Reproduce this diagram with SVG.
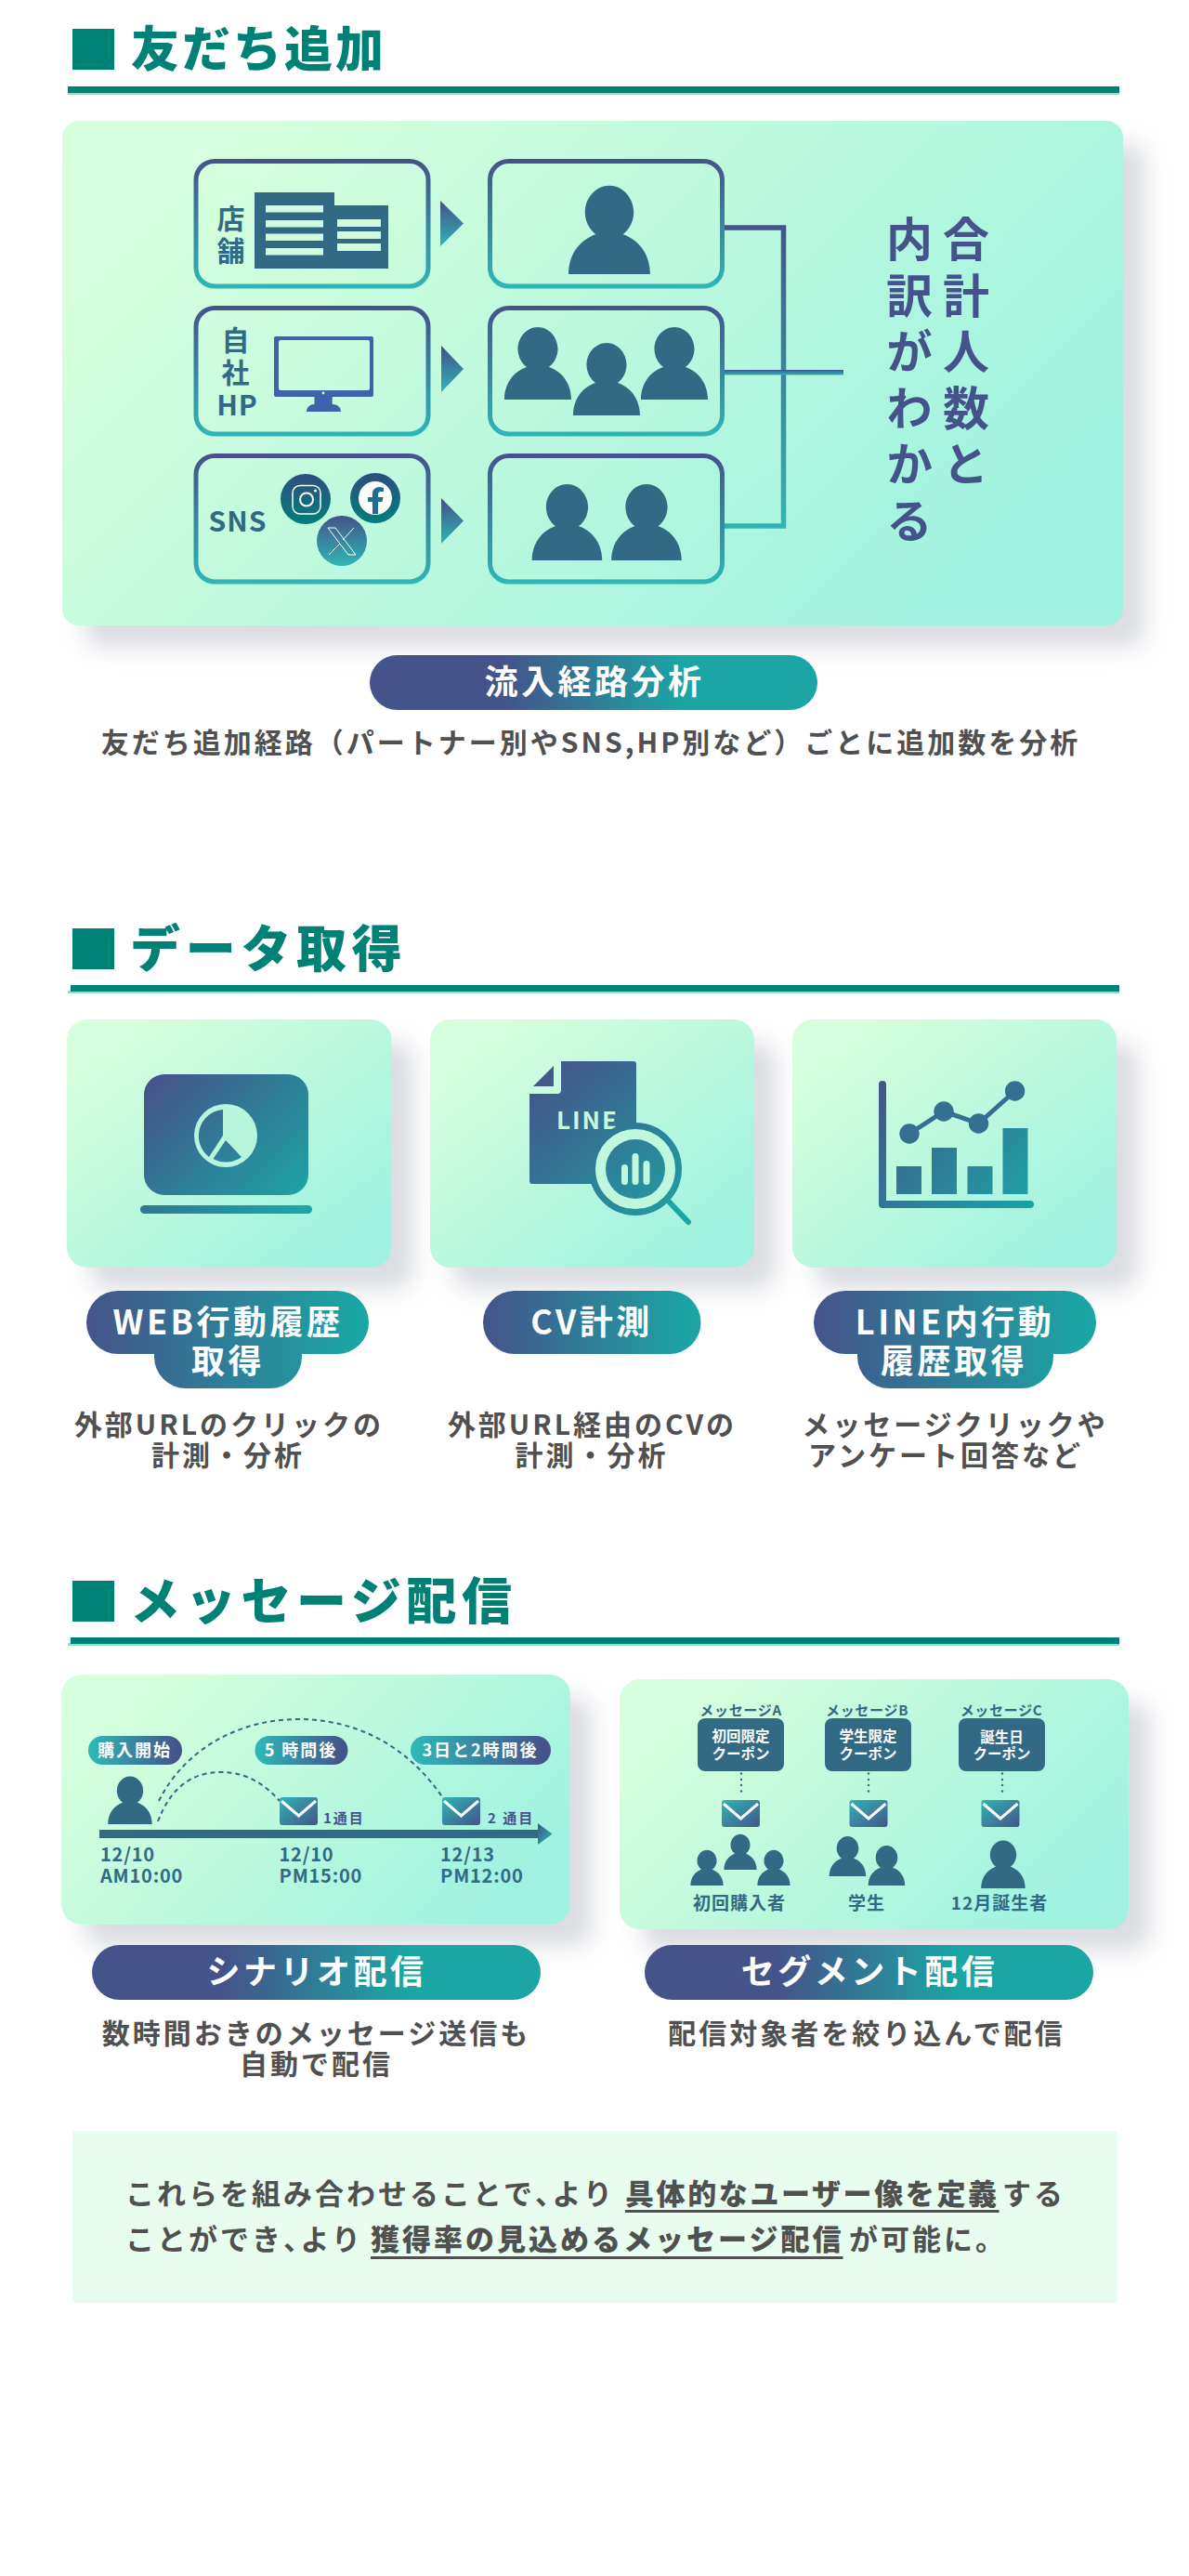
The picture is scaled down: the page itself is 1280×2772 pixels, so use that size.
<svg xmlns="http://www.w3.org/2000/svg" xmlns:xlink="http://www.w3.org/1999/xlink" width="1280" height="2772" viewBox="0 0 1280 2772">
<style>
text{font-family:"Noto Sans CJK JP","Noto Sans",sans-serif}
.h{font-size:54px;font-weight:900;fill:#008176;letter-spacing:5.700px}
.h1{font-size:52px;letter-spacing:3px}
.sq{fill:#008176}.ru{fill:#008176}.rl{fill:#8fe0c5}
.card{filter:url(#sh)}
.box{fill:none;stroke:url(#bs);stroke-width:5}
.tri{fill:url(#tri)}
.b30{font-size:30px;font-weight:700;fill:#326a85;text-anchor:middle;letter-spacing:1px}
.pt{font-size:36px;font-weight:700;fill:#fff;text-anchor:middle;letter-spacing:3.500px}
.cap{font-size:30px;font-weight:700;fill:#505050;text-anchor:middle;letter-spacing:3px}
.p{fill:#326a85}
.lbl{font-size:18px;font-weight:700;fill:#fff;text-anchor:middle;letter-spacing:2px}
.dt{font-size:20px;font-weight:700;fill:#326a85;letter-spacing:.8px}
.nth{font-size:15px;font-weight:700;fill:#44548a;letter-spacing:2px}
.dash{fill:none;stroke:#326a85;stroke-width:2;stroke-dasharray:5 4}
.env{fill:url(#env)}.chev{fill:none;stroke:#fff;stroke-width:3}
.msg{font-size:15px;font-weight:700;fill:#326a85;text-anchor:middle;letter-spacing:.7px}
.cb{fill:#326a85}
.cpn{font-size:15.500px;font-weight:700;fill:#fff;text-anchor:middle}
.seg{font-size:19px;font-weight:700;fill:#326a85;text-anchor:middle;letter-spacing:1px}
.dot{fill:#326a85}
.sum{font-size:31px;font-weight:700;fill:#505050;letter-spacing:3px}
.sb{font-weight:900}
.sb1{letter-spacing:2.600px}
.pa{font-feature-settings:"palt"}
.vt{font-size:50px;font-weight:700;fill:#44548a;writing-mode:vertical-rl;letter-spacing:10.500px}
</style>
<defs>
<linearGradient id="cardS"><stop offset=".12" stop-color="#d6ffdd"/><stop offset=".88" stop-color="#9ff2e0"/></linearGradient>
<linearGradient id="card" href="#cardS" x1="0" y1="0" x2="1" y2="1"/>
<linearGradient id="card1" href="#cardS" gradientUnits="userSpaceOnUse" x1="217" y1="-19.500" x2="1059" y2="822.500"/>
<linearGradient id="cardA" href="#cardS" gradientUnits="userSpaceOnUse" x1="136" y1="1732.500" x2="544" y2="2140.500"/>
<linearGradient id="cardB" href="#cardS" gradientUnits="userSpaceOnUse" x1="737" y1="1737.500" x2="1145" y2="2145.500"/>
<linearGradient id="bs" x1="0" y1="0" x2="0" y2="1"><stop offset="0" stop-color="#44548a"/><stop offset="1" stop-color="#2fb5b5"/></linearGradient>
<linearGradient id="tri" x1="0" y1="0" x2="0" y2="1"><stop offset=".05" stop-color="#44548a"/><stop offset="1" stop-color="#2fb5b5"/></linearGradient>
<linearGradient id="conn" gradientUnits="userSpaceOnUse" x1="0" y1="242" x2="0" y2="569"><stop offset="0" stop-color="#44548a"/><stop offset="1" stop-color="#2fb5b5"/></linearGradient>
<linearGradient id="pill" x1="0" y1="0" x2="1" y2="0"><stop offset=".3" stop-color="#44548a"/><stop offset=".7" stop-color="#1ba5a5"/></linearGradient>
<linearGradient id="pill2" x1="0" y1="0" x2="1" y2="0"><stop offset="0" stop-color="#44548a"/><stop offset=".95" stop-color="#1ba5a5"/></linearGradient>
<linearGradient id="lab" x1="0" y1="0" x2="1" y2="0"><stop offset=".05" stop-color="#2fb5b5"/><stop offset=".95" stop-color="#44548a"/></linearGradient>
<linearGradient id="env" x1="0" y1="0" x2="1" y2="1"><stop offset="0" stop-color="#2fb5b5"/><stop offset="1" stop-color="#44548a"/></linearGradient>
<linearGradient id="axh" x1="0" y1="0" x2="1" y2="1"><stop offset="0" stop-color="#44548a"/><stop offset="1" stop-color="#2fb5b5"/></linearGradient>
<linearGradient id="ig" x1="0" y1="0" x2="0" y2="1"><stop offset="0" stop-color="#2f4d80"/><stop offset="1" stop-color="#00807a"/></linearGradient>
<linearGradient id="xg" x1="0" y1="0" x2="0" y2="1"><stop offset="0" stop-color="#44548a"/><stop offset="1" stop-color="#2fb5b5"/></linearGradient>
<linearGradient id="lap" gradientUnits="userSpaceOnUse" x1="175" y1="1150" x2="320" y2="1300"><stop offset="0" stop-color="#44548a"/><stop offset="1" stop-color="#1ba5a5"/></linearGradient>
<linearGradient id="doc" gradientUnits="userSpaceOnUse" x1="590" y1="1142" x2="745" y2="1317"><stop offset="0" stop-color="#44548a"/><stop offset="1" stop-color="#1ba5a5"/></linearGradient>
<linearGradient id="cht" gradientUnits="userSpaceOnUse" x1="946" y1="1163" x2="1113" y2="1300"><stop offset="0" stop-color="#44548a"/><stop offset="1" stop-color="#1ba5a5"/></linearGradient>
<filter id="sh" x="-15%" y="-15%" width="135%" height="135%" color-interpolation-filters="sRGB"><feDropShadow dx="24" dy="24" stdDeviation="12" flood-color="#3a4060" flood-opacity=".18"/></filter>
<path id="person" d="M-36 0C-36-22-20-37 0-37C20-37 36-22 36 0ZM0-78C12-78 21.500-67 21.500-54.500C21.500-42 12-31 0-31C-12-31-21.500-42-21.500-54.500C-21.500-67-12-78 0-78Z"/>
</defs>
<rect width="1280" height="2772" fill="#fff"/>

<g id="heading-1">
<rect class="sq" x="78" y="31" width="45" height="44"/>
<text class="h h1" x="141" y="72">友だち追加</text>
<rect class="rl" x="73" y="99" width="1132" height="3"/><rect class="ru" x="73" y="93" width="1132" height="7"/>
</g>
<g id="card-1"><rect class="card" fill="url(#card1)" x="67" y="130" width="1142" height="543" rx="18"/></g>

<g id="connectors">
<path d="M780 245H843.500V566H780" fill="none" stroke="url(#conn)" stroke-width="5.500"/>
<rect x="780" y="398" width="128" height="5.500" fill="url(#bs)"/>
</g>

<g id="src-store">
<rect class="box" x="211" y="173.500" width="250" height="134.500" rx="20"/>
<text class="b30"><tspan x="249" y="246">店</tspan><tspan x="249" y="281">舗</tspan></text>
<path class="p" d="M274 207H360V221H418V289H274Z"/>
<g fill="#d0fbdf"><rect x="286" y="221" width="62" height="7.500"/><rect x="286" y="237" width="62" height="7.500"/><rect x="286" y="251.500" width="62" height="7.500"/><rect x="286" y="267" width="62" height="7.500"/><rect x="363" y="236" width="47" height="8"/><rect x="363" y="249" width="47" height="8"/><rect x="363" y="262" width="47" height="8"/></g>
</g>
<polygon class="tri" points="474,216 499,240.500 474,265"/>
<g id="count-1">
<rect class="box" x="527.500" y="173.500" width="250" height="134.500" rx="20"/>
<use href="#person" class="p" transform="translate(656,295) scale(1.22)"/>
</g>

<g id="src-hp">
<rect class="box" x="211" y="331.500" width="250" height="135.500" rx="20"/>
<text class="b30"><tspan x="254" y="377">自</tspan><tspan x="254" y="412">社</tspan><tspan x="255.500" y="447">HP</tspan></text>
<path fill="#3f63a8" fill-rule="evenodd" d="M297 362H400Q402 362 402 364V425Q402 427 400 427H297Q295 427 295 425V364Q295 362 297 362ZM302 366Q300 366 300 368V418Q300 420 302 420H396Q398 420 398 418V368Q398 366 396 366Z"/>
<path fill="#3f63a8" d="M338.500 427H357.700V435C363 435 367 438 367 443H330C330 438 334 435 338.500 435Z"/>
<circle cx="348" cy="423" r="1.400" fill="#d0fbdf"/>
</g>
<polygon class="tri" points="475,372 499,397 475,422"/>
<g id="count-2">
<rect class="box" x="527.500" y="331.500" width="250" height="135.500" rx="20"/>
<use href="#person" class="p" transform="translate(579,430)"/><use href="#person" class="p" transform="translate(653,447)"/><use href="#person" class="p" transform="translate(726,430)"/>
</g>

<g id="src-sns">
<rect class="box" x="211" y="490.500" width="250" height="135.500" rx="20"/>
<text class="b30" x="256" y="572">SNS</text>
<circle cx="329" cy="537" r="27" fill="url(#ig)"/>
<rect x="315" y="522.500" width="30" height="30.500" rx="8" fill="none" stroke="#fff" stroke-width="1.500"/>
<circle cx="330" cy="537.500" r="7" fill="none" stroke="#fff" stroke-width="2"/><circle cx="339.500" cy="528" r="1.600" fill="#fff"/>
<circle cx="404" cy="536" r="27" fill="url(#ig)"/>
<circle cx="404" cy="536" r="18" fill="#fff"/>
<path fill="#1f6f8c" d="M401 553V540H396V535H401V531C401 527 404 524 409 524L413 525V529H410C408 529 407 530 407 532V535H412.500L411.500 540H407V553Z"/>
<circle cx="368" cy="582" r="27" fill="url(#xg)"/>
<path d="M353 568H361L383 597H375ZM381 568L369 581M366 585L354 597" fill="none" stroke="#fff" stroke-width="1"/>
</g>
<polygon class="tri" points="475,536 499,560.500 475,585"/>
<g id="count-3">
<rect class="box" x="527.500" y="490.500" width="250" height="135.500" rx="20"/>
<use href="#person" class="p" transform="translate(610.500,603) scale(1.050)"/><use href="#person" class="p" transform="translate(696,603) scale(1.050)"/>
</g>
<g id="total-note">
<text class="vt" x="1040" y="232">合計人数と</text>
<text class="vt" x="979" y="232">内訳がわかる</text>
</g>

<g id="pill-flow">
<rect x="398" y="705" width="482" height="59" rx="29.500" fill="url(#pill)"/>
<text class="pt" x="640" y="747">流入経路分析</text>
<text class="cap" x="636" y="810">友だち追加経路（パートナー別やSNS,HP別など）ごとに追加数を分析</text>
</g>

<g id="heading-2">
<rect class="sq" x="78" y="999" width="45" height="44"/>
<text class="h" x="140" y="1041">データ取得</text>
<rect class="rl" x="73" y="1066" width="1132" height="3"/><rect class="ru" x="76" y="1060" width="1129" height="7"/>
</g>

<g id="card-web">
<rect class="card" fill="url(#card)" x="72" y="1097" width="349.500" height="267" rx="22"/>
<rect x="155" y="1156" width="177" height="130" rx="22" fill="url(#lap)"/>
<rect x="151" y="1297" width="185" height="9" rx="4.500" fill="url(#lap)"/>
<circle cx="243" cy="1222" r="34" fill="#b8f5dd"/>
<path fill="url(#lap)" d="M240 1194V1222L225 1245A28.500 28.500 0 0 1 240 1194ZM243 1227L260 1245A28 28 0 0 1 229.500 1247Z"/>
<path fill="url(#pill2)" d="M127 1389H363A34 34 0 0 1 363 1457H325V1460A34 34 0 0 1 291 1494H200A34 34 0 0 1 166 1460V1457H127A34 34 0 0 1 127 1389Z"/>
<text class="pt"><tspan x="245.500" y="1436">WEB行動履歴</tspan><tspan x="245.500" y="1478">取得</tspan></text>
<text class="cap"><tspan x="246.500" y="1544">外部URLのクリックの</tspan><tspan x="245.500" y="1577">計測・分析</tspan></text>
</g>

<g id="card-cv">
<rect class="card" fill="url(#card)" x="463" y="1097" width="349" height="267" rx="22"/>
<path fill="url(#doc)" d="M604 1142H682Q685 1142 685 1145V1274H573Q570 1274 570 1271V1177H600Q604 1177 604 1173Z"/>
<path fill="url(#doc)" d="M596 1147V1169H574Z"/>
<text x="599" y="1215" font-size="26" font-weight="700" fill="#c8f8df" letter-spacing="2">LINE</text>
<circle cx="684" cy="1258" r="46.500" fill="#bff8dd" stroke="url(#doc)" stroke-width="7"/>
<circle cx="684" cy="1258" r="32" fill="url(#doc)"/>
<g fill="#bff8dd"><rect x="669" y="1253" width="7" height="22" rx="3.500"/><rect x="680.500" y="1241" width="7" height="34" rx="3.500"/><rect x="692.500" y="1249" width="7" height="26" rx="3.500"/></g>
<path d="M720 1293L741 1315" stroke="#1ba5a5" stroke-width="6" stroke-linecap="round"/>
<path fill="url(#pill2)" d="M554 1389H720.500A34 34 0 0 1 720.500 1457H554A34 34 0 0 1 554 1389Z"/>
<text class="pt" x="637" y="1436">CV計測</text>
<text class="cap"><tspan x="637.500" y="1544">外部URL経由のCVの</tspan><tspan x="637" y="1577">計測・分析</tspan></text>
</g>

<g id="card-line">
<rect class="card" fill="url(#card)" x="853" y="1097" width="349" height="267" rx="22"/>
<path fill="url(#cht)" d="M946 1167Q946 1163 950 1163Q954 1163 954 1167V1292H1109Q1113 1292 1113 1296Q1113 1300 1109 1300H950Q946 1300 946 1296Z"/>
<g fill="url(#cht)"><rect x="965" y="1255" width="27" height="30"/><rect x="1003" y="1235" width="27" height="50"/><rect x="1041.500" y="1255" width="27" height="30"/><rect x="1079.500" y="1214" width="27" height="71"/></g>
<path d="M979 1220L1016 1196L1053.500 1209L1092.600 1174" fill="none" stroke="#356f92" stroke-width="5"/>
<g fill="#356f92"><circle cx="979" cy="1220" r="10.700"/><circle cx="1016" cy="1196" r="10.700"/><circle cx="1053.500" cy="1209" r="10.700"/><circle cx="1092.600" cy="1174" r="10.700"/></g>
<path fill="url(#pill2)" d="M910 1389H1146A34 34 0 0 1 1146 1457H1134V1460A34 34 0 0 1 1100 1494H957A34 34 0 0 1 923 1460V1457H910A34 34 0 0 1 910 1389Z"/>
<text class="pt"><tspan x="1028" y="1436">LINE内行動</tspan><tspan x="1027" y="1478">履歴取得</tspan></text>
<text class="cap"><tspan x="1028" y="1544">メッセージクリックや</tspan><tspan x="1018" y="1577">アンケート回答など</tspan></text>
</g>

<g id="heading-3">
<rect class="sq" x="78" y="1701" width="45" height="44"/>
<text class="h" x="140" y="1743">メッセージ配信</text>
<rect class="rl" x="73" y="1768" width="1132" height="3"/><rect class="ru" x="76" y="1762" width="1129" height="7"/>
</g>

<g id="card-scenario">
<rect class="card" fill="url(#cardA)" x="66" y="1802" width="548" height="269" rx="22"/>
<path class="dash" d="M170 1960C185 1920 210 1907 238 1907C265 1907 285 1920 301 1938"/>
<path class="dash" d="M171 1938C200 1880 260 1850 321 1850C385 1850 440 1880 477 1935"/>
<rect x="95" y="1868" width="101" height="31" rx="15.500" fill="url(#lab)"/><text class="lbl" x="145" y="1890">購入開始</text>
<rect x="274.500" y="1868" width="100" height="31" rx="15.500" fill="url(#lab)"/><text class="lbl" x="324" y="1890">5 時間後</text>
<rect x="442" y="1868" width="151" height="31" rx="15.500" fill="url(#lab)"/><text class="lbl" x="517" y="1890">3日と2時間後</text>
<use href="#person" class="p" transform="translate(140,1963) scale(.66)"/>
<rect class="p" x="107" y="1969" width="473" height="9"/>
<polygon points="579,1962 594.500,1973.500 579,1985" fill="url(#axh)"/>
<rect class="env" x="301" y="1934" width="41" height="30" rx="3"/><path class="chev" d="M303 1938L321.500 1954L340 1938"/>
<rect class="env" x="476" y="1934" width="41" height="30" rx="3"/><path class="chev" d="M478 1938L496.500 1954L515 1938"/>
<text class="nth" x="348" y="1962">1通目</text><text class="nth" x="525" y="1962">2 通目</text>
<text class="dt"><tspan x="108" y="2003">12/10</tspan><tspan x="108" y="2026">AM10:00</tspan></text>
<text class="dt"><tspan x="300.500" y="2003">12/10</tspan><tspan x="300.500" y="2026">PM15:00</tspan></text>
<text class="dt"><tspan x="474" y="2003">12/13</tspan><tspan x="474" y="2026">PM12:00</tspan></text>
</g>

<g id="card-segment">
<rect class="card" fill="url(#cardB)" x="667" y="1807" width="548" height="269" rx="22"/>
<rect class="cb" x="751" y="1849" width="93" height="57" rx="8"/><rect class="cb" x="888" y="1849" width="93" height="57" rx="8"/><rect class="cb" x="1032" y="1849" width="93" height="57" rx="8"/>
<text class="msg" x="797.500" y="1846">メッセージA</text><text class="msg" x="933.500" y="1846">メッセージB</text><text class="msg" x="1078" y="1846">メッセージC</text>
<text class="cpn"><tspan x="797.500" y="1874">初回限定</tspan><tspan x="797.500" y="1893">クーポン</tspan></text>
<text class="cpn"><tspan x="934.500" y="1874">学生限定</tspan><tspan x="934.500" y="1893">クーポン</tspan></text>
<text class="cpn"><tspan x="1078.500" y="1875">誕生日</tspan><tspan x="1078.500" y="1893">クーポン</tspan></text>
<g class="dot"><circle cx="798" cy="1908.500" r="1.200"/><circle cx="798" cy="1915" r="1.200"/><circle cx="798" cy="1921" r="1.200"/><circle cx="798" cy="1927.500" r="1.200"/><circle cx="935" cy="1908.500" r="1.200"/><circle cx="935" cy="1915" r="1.200"/><circle cx="935" cy="1921" r="1.200"/><circle cx="935" cy="1927.500" r="1.200"/><circle cx="1079" cy="1908.500" r="1.200"/><circle cx="1079" cy="1915" r="1.200"/><circle cx="1079" cy="1921" r="1.200"/><circle cx="1079" cy="1927.500" r="1.200"/></g>
<rect class="env" x="777" y="1937" width="41" height="29" rx="3"/><path class="chev" d="M779 1941L797.500 1957L816 1941"/>
<rect class="env" x="914.500" y="1937" width="41" height="29" rx="3"/><path class="chev" d="M916.500 1941L935 1957L953.500 1941"/>
<rect class="env" x="1056.500" y="1937" width="41" height="29" rx="3"/><path class="chev" d="M1058.500 1941L1077 1957L1095.500 1941"/>
<use href="#person" class="p" transform="translate(761,2029) scale(.49)"/><use href="#person" class="p" transform="translate(797,2012) scale(.49)"/><use href="#person" class="p" transform="translate(833,2029) scale(.49)"/>
<use href="#person" class="p" transform="translate(912.500,2019) scale(.55)"/><use href="#person" class="p" transform="translate(954.500,2029) scale(.55)"/>
<use href="#person" class="p" transform="translate(1080,2032) scale(.66)"/>
<text class="seg" x="796" y="2055">初回購入者</text><text class="seg" x="933" y="2055">学生</text><text class="seg" x="1076" y="2055">12月誕生者</text>
</g>

<g id="pill-scenario">
<rect x="99" y="2093" width="483" height="59" rx="29.500" fill="url(#pill)"/>
<text class="pt" x="341" y="2135">シナリオ配信</text>
<text class="cap"><tspan x="340.500" y="2199">数時間おきのメッセージ送信も</tspan><tspan x="340.500" y="2232">自動で配信</tspan></text>
</g>
<g id="pill-segment">
<rect x="694" y="2093" width="483" height="59" rx="29.500" fill="url(#pill)"/>
<text class="pt" x="936" y="2135">セグメント配信</text>
<text class="cap" x="933" y="2199">配信対象者を絞り込んで配信</text>
</g>

<g id="summary">
<rect x="78" y="2293" width="1125" height="185" rx="3" fill="#e8fdef"/>
<text class="sum"><tspan x="135" y="2372">これらを組み合わせることで</tspan><tspan class="pa">、</tspan><tspan>より</tspan><tspan class="sb sb1" x="673">具体的なユーザー像を定義</tspan><tspan x="1079">する</tspan><tspan x="135" y="2421">ことができ</tspan><tspan class="pa">、</tspan><tspan>より</tspan><tspan class="sb" x="399">獲得率の見込めるメッセージ配信</tspan><tspan x="914">が可能に。</tspan></text>
<rect x="673" y="2378" width="402.500" height="3" fill="#505050"/>
<rect x="399" y="2428" width="508.500" height="3" fill="#505050"/>
</g>
</svg>
